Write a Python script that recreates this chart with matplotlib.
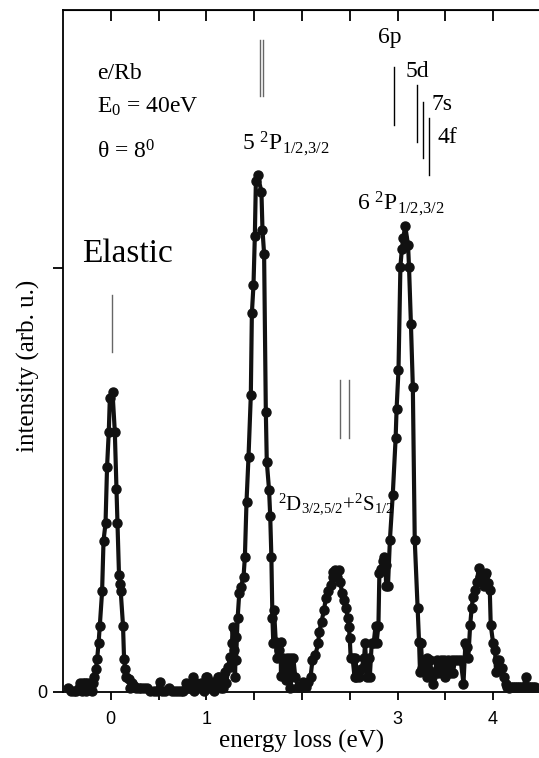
import numpy as np
import matplotlib
matplotlib.use("Agg")
import matplotlib.pyplot as plt

plt.rcParams['font.family'] = ['Liberation Serif', 'DejaVu Serif']
plt.rcParams['mathtext.fontset'] = 'custom'
plt.rcParams['mathtext.rm'] = 'Liberation Serif'
plt.rcParams['mathtext.it'] = 'Liberation Serif:italic'
plt.rcParams['mathtext.default'] = 'regular'

# energy loss (eV) and intensity (arb. u.)
energy = [-0.445, -0.42, -0.39, -0.36, -0.33, -0.32, -0.30, -0.29, -0.27, -0.26,
          -0.25, -0.23, -0.22, -0.20, -0.19, -0.174, -0.156, -0.143, -0.128, -0.115,
          -0.091, -0.076, -0.055, -0.039, -0.021, -0.010, 0.018, 0.042, 0.059, 0.070,
          0.086, 0.095, 0.104, 0.128, 0.139, 0.150, 0.164, 0.188, 0.205, 0.22,
          0.24, 0.26, 0.29, 0.32, 0.35, 0.38, 0.41, 0.45, 0.48, 0.51,
          0.54, 0.57, 0.61, 0.64, 0.67, 0.70, 0.73, 0.76, 0.79, 0.805,
          0.82, 0.86, 0.875, 0.89, 0.91, 0.945, 0.96, 0.975, 1.00, 1.01,
          1.03, 1.05, 1.07, 1.085, 1.10, 1.12, 1.135, 1.15, 1.17, 1.19,
          1.21, 1.23, 1.245, 1.26, 1.268, 1.274, 1.29, 1.30, 1.309, 1.31,
          1.327, 1.344, 1.361, 1.389, 1.403, 1.420, 1.441, 1.465, 1.476, 1.493,
          1.507, 1.518, 1.535, 1.576, 1.587, 1.604, 1.622, 1.632, 1.656, 1.668,
          1.680, 1.691, 1.70, 1.708, 1.726, 1.74, 1.76, 1.778, 1.78, 1.80,
          1.83, 1.84, 1.87, 1.88, 1.89, 1.91, 1.93, 1.96, 1.99, 2.01,
          2.02, 2.04, 2.066, 2.09, 2.11, 2.14, 2.17, 2.18, 2.205, 2.23,
          2.25, 2.27, 2.30, 2.32, 2.33, 2.35, 2.37, 2.39, 2.40, 2.42,
          2.44, 2.46, 2.48, 2.49, 2.50, 2.51, 2.53, 2.55, 2.56, 2.57,
          2.60, 2.62, 2.65, 2.66, 2.68, 2.70, 2.71, 2.73, 2.75, 2.77,
          2.78, 2.80, 2.81, 2.83, 2.845, 2.86, 2.875, 2.88, 2.90, 2.92,
          2.95, 2.98, 2.99, 3.01, 3.03, 3.045, 3.06, 3.08, 3.11, 3.12,
          3.14, 3.16, 3.18, 3.21, 3.225, 3.235, 3.245, 3.26, 3.27, 3.29,
          3.305, 3.31, 3.32, 3.335, 3.34, 3.36, 3.375, 3.41, 3.42, 3.45,
          3.47, 3.49, 3.50, 3.53, 3.55, 3.57, 3.58, 3.60, 3.63, 3.66,
          3.69, 3.71, 3.73, 3.74, 3.76, 3.775, 3.79, 3.815, 3.83, 3.85,
          3.865, 3.88, 3.90, 3.915, 3.93, 3.95, 3.965, 3.975, 4.00, 4.02,
          4.03, 4.045, 4.06, 4.09, 4.11, 4.13, 4.15, 4.17, 4.19, 4.21,
          4.23, 4.25, 4.27, 4.29, 4.32, 4.34, 4.36, 4.38, 4.40, 4.42,
          4.44]
intensity = [0.009, 0.002, 0.002, 0.002, 0.009, 0.022, 0.002, 0.022, 0.022, 0.002,
             0.022, 0.009, 0.022, 0.002, 0.022, 0.036, 0.055, 0.077, 0.115, 0.156,
             0.237, 0.357, 0.398, 0.531, 0.614, 0.693, 0.707, 0.614, 0.478, 0.398,
             0.276, 0.255, 0.237, 0.156, 0.077, 0.055, 0.036, 0.030, 0.009, 0.022,
             0.013, 0.009, 0.009, 0.009, 0.009, 0.009, 0.002, 0.002, 0.002, 0.024,
             0.002, 0.002, 0.009, 0.002, 0.002, 0.002, 0.002, 0.002, 0.022, 0.009,
             0.009, 0.036, 0.002, 0.022, 0.009, 0.022, 0.009, 0.002, 0.036, 0.036,
             0.009, 0.022, 0.024, 0.002, 0.009, 0.036, 0.036, 0.009, 0.009, 0.048,
             0.022, 0.060, 0.083, 0.060, 0.115, 0.154, 0.099, 0.036, 0.130, 0.075,
             0.174, 0.233, 0.248, 0.272, 0.319, 0.449, 0.555, 0.700, 0.893, 0.960,
             1.075, 1.206, 1.219, 1.180, 1.090, 1.033, 0.661, 0.543, 0.476, 0.414,
             0.319, 0.174, 0.115, 0.193, 0.119, 0.079, 0.099, 0.119, 0.038, 0.079,
             0.028, 0.079, 0.079, 0.009, 0.036, 0.079, 0.036, 0.012, 0.012, 0.024,
             0.012, 0.012, 0.024, 0.036, 0.075, 0.087, 0.115, 0.142, 0.166, 0.193,
             0.221, 0.237, 0.252, 0.272, 0.284, 0.288, 0.272, 0.288, 0.260, 0.233,
             0.217, 0.197, 0.174, 0.154, 0.127, 0.079, 0.079, 0.036, 0.079, 0.036,
             0.036, 0.055, 0.079, 0.115, 0.036, 0.079, 0.036, 0.115, 0.115, 0.156,
             0.115, 0.156, 0.280, 0.290, 0.310, 0.319, 0.300, 0.250, 0.250, 0.358,
             0.465, 0.598, 0.667, 0.759, 1.003, 1.044, 1.070, 1.099, 1.054, 1.003,
             0.868, 0.720, 0.358, 0.197, 0.119, 0.048, 0.115, 0.056, 0.075, 0.048,
             0.079, 0.036, 0.075, 0.049, 0.075, 0.036, 0.020, 0.075, 0.045, 0.075,
             0.045, 0.075, 0.036, 0.075, 0.045, 0.075, 0.045, 0.075, 0.075, 0.075,
             0.020, 0.115, 0.107, 0.080, 0.158, 0.197, 0.225, 0.240, 0.260, 0.292,
             0.270, 0.260, 0.250, 0.275, 0.280, 0.258, 0.240, 0.158, 0.115, 0.099,
             0.048, 0.075, 0.075, 0.056, 0.036, 0.020, 0.012, 0.009, 0.012, 0.012,
             0.012, 0.012, 0.012, 0.012, 0.012, 0.036, 0.012, 0.012, 0.012, 0.012,
             0.012]

# level markers: (energy, y bottom, y top)
grey_levels = [(0.01, 0.802, 0.936), (1.56, 1.406, 1.538), (1.59, 1.406, 1.538),
               (2.40, 0.599, 0.736), (2.49, 0.599, 0.736)]
black_levels = [(2.96, 1.337, 1.474), (3.20, 1.297, 1.432),
                (3.27, 1.259, 1.392), (3.33, 1.219, 1.354)]

xticks = [0, 0.5, 1, 1.5, 2, 2.5, 3, 3.5, 4]
xlabels = ['0', '', '1', '', '', '', '3', '', '4']

fig = plt.figure(figsize=(5.39, 7.58), dpi=100)
ax = fig.add_axes([63 / 539, 1 - 692 / 758, 1 - 63 / 539, 682 / 758])

ax.plot(energy, intensity, '-o', color='#111111', lw=3.0, ms=6.5, clip_on=False, zorder=3)

for e, y0, y1 in grey_levels:
    ax.plot([e, e], [y0, y1], color='0.4', lw=1.0)
for e, y0, y1 in black_levels:
    ax.plot([e, e], [y0, y1], color='black', lw=1.0)

ax.set_xlim(-0.5, 4.48)
ax.set_ylim(0, 1.608)
ax.spines['right'].set_visible(False)
for s in ['left', 'bottom', 'top']:
    ax.spines[s].set_linewidth(1.3)

ax.set_xticks(xticks)
ax.set_xticklabels(xlabels, family='Liberation Sans', fontsize=13)
ax.set_yticks([0, 1.0])
ax.set_yticklabels(['0', ''], family='Liberation Sans', fontsize=13)
ax.tick_params(axis='x', direction='out', length=6, width=1.3, pad=8)
ax.tick_params(axis='y', direction='out', length=7, width=1.3, pad=4)

top = ax.secondary_xaxis('top')
top.set_xticks(xticks)
top.tick_params(direction='in', length=8, width=1.3, labeltop=False)

fs = 17
ax.text(-0.144, 1.446, 'e/Rb', fontsize=fs, va='baseline')
ax.text(-0.144, 1.366, 'E$_0$ = 40eV', fontsize=fs, va='baseline')
ax.text(-0.144, 1.257, '\u03b8 = 8$^0$', fontsize=fs, va='baseline')
ax.text(-0.30, 1.014, 'Elastic', fontsize=24, va='baseline')
ax.text(1.37, 1.278, '5 $^2$P$_{1/2{,}3/2}$', fontsize=fs, va='baseline')
ax.text(2.795, 1.531, '6p', fontsize=fs, va='baseline')
ax.text(3.088, 1.450, '5d', fontsize=fs, va='baseline')
ax.text(3.36, 1.373, '7s', fontsize=fs, va='baseline')
ax.text(3.42, 1.295, '4f', fontsize=fs, va='baseline')
ax.text(2.575, 1.137, '6 $^2$P$_{1/2{,}3/2}$', fontsize=fs, va='baseline')
ax.text(1.75, 0.429, '$^2$D$_{3/2{,}5/2}$+$^2$S$_{1/2}$', fontsize=15, va='baseline')

fig.text(302 / 539, 1 - 748 / 758, 'energy loss (eV)', fontsize=18, ha='center', va='baseline')
fig.text(28 / 539, 1 - 366 / 758, 'intensity (arb. u.)', fontsize=18, ha='center', va='center',
         rotation=90)

fig.savefig('out.png', dpi=100)
